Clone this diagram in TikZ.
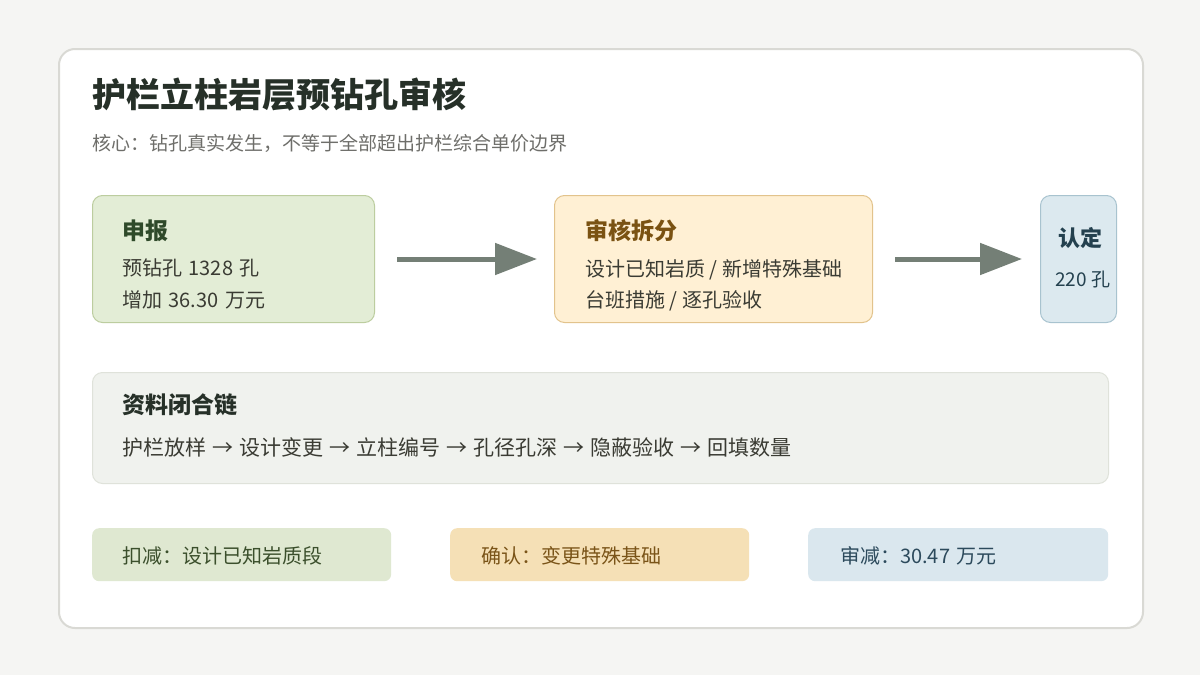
\documentclass[tikz,border=0pt]{standalone}
\usepackage{fontspec}
\setmainfont{Noto Sans CJK SC}
\usetikzlibrary{arrows.meta}
\definecolor{bgc}{HTML}{F5F5F3}
\definecolor{cardline}{HTML}{D9D9D4}
\definecolor{titlec}{HTML}{263028}
\definecolor{subc}{HTML}{6E6E6A}
\definecolor{gfill}{HTML}{E3EDD6}
\definecolor{gline}{HTML}{BCCD9F}
\definecolor{gtext}{HTML}{2F4A2A}
\definecolor{ofill}{HTML}{FFF0D4}
\definecolor{oline}{HTML}{E2C38C}
\definecolor{otext}{HTML}{7A5212}
\definecolor{bfill}{HTML}{DCE9EF}
\definecolor{bline}{HTML}{A8C3CF}
\definecolor{btext}{HTML}{24414F}
\definecolor{nfill}{HTML}{F0F2EE}
\definecolor{nline}{HTML}{DFE2DA}
\definecolor{bodyc}{HTML}{3A3B33}
\definecolor{arrc}{HTML}{747F76}
\definecolor{g2fill}{HTML}{DFE8D1}
\definecolor{o2fill}{HTML}{F5E0B6}
\definecolor{b2fill}{HTML}{DAE7EE}
\definecolor{g2text}{HTML}{3B4F2C}
\definecolor{o2text}{HTML}{7A5418}
\definecolor{b2text}{HTML}{2C4A5C}
\newcommand\chainarr{\hspace{6pt}→\hspace{6pt}}
\newcommand\wsp{\hspace{6.5pt}}
\tikzset{
  boxbase/.style={rectangle, rounded corners=10pt, line width=1pt, inner sep=0pt, anchor=north west},
  hdtext/.style={anchor=base west, inner sep=0pt, font=\fontsize{23}{27}\selectfont\bfseries},
  bdtext/.style={anchor=base west, inner sep=0pt, font=\fontsize{20}{24}\selectfont, text=bodyc},
  flowarrow/.style={draw=arrc, line width=5pt, -{Triangle[length=42pt,width=31pt]}},
  tagbox/.style={rectangle, rounded corners=7pt, inner sep=0pt, anchor=north west, minimum width=299pt, minimum height=53pt},
}
\begin{document}
\begin{tikzpicture}[x=1pt,y=-1pt]
\useasboundingbox (0,0) rectangle (1200,675);
\fill[bgc] (0,0) rectangle (1200,675);
\node[rectangle, rounded corners=16pt, draw=cardline, line width=2pt, fill=white, anchor=north west, minimum width=1084pt, minimum height=579pt, inner sep=0pt] (card) at (58,48) {};

\node[anchor=base west, inner sep=0pt, text=titlec, font=\fontsize{34}{40}\selectfont\bfseries] (title) at (92,107) {护栏立柱岩层预钻孔审核};
\node[anchor=base west, inner sep=0pt, text=subc, font=\fontsize{19}{23}\selectfont] (sub) at (92,150) {核心：钻孔真实发生，不等于全部超出护栏综合单价边界};

% top row
\node[boxbase, fill=gfill, draw=gline, minimum width=282pt, minimum height=127pt] (b1) at (92,195) {};
\node[hdtext, text=gtext] (b1t) at (122,239) {申报};
\node[bdtext] (b1a) at (122,275) {预钻孔\wsp{}1328\wsp{}孔};
\node[bdtext] (b1b) at (122,307) {增加\wsp{}36.30\wsp{}万元};

\node[boxbase, fill=ofill, draw=oline, minimum width=318pt, minimum height=127pt] (b2) at (554,195) {};
\node[hdtext, text=otext] (b2t) at (585,239) {审核拆分};
\node[bdtext] (b2a) at (585,276) {设计已知岩质 / 新增特殊基础};
\node[bdtext] (b2b) at (585,307) {台班措施 / 逐孔验收};

\node[boxbase, fill=bfill, draw=bline, minimum width=76pt, minimum height=127pt] (b3) at (1040,195) {};
\node[hdtext, text=btext, font=\fontsize{22}{26}\selectfont\bfseries] (b3t) at (1058,246) {认定};
\node[bdtext, text=btext, font=\fontsize{19}{23}\selectfont] (b3a) at (1055,286) {220\hspace{5pt}孔};

\draw[flowarrow, shorten <=22pt, shorten >=17pt] (b1.east) -- (b2.west);
\draw[flowarrow, shorten <=22pt, shorten >=18pt] (b2.east) -- (b3.west);

% chain box
\node[boxbase, fill=nfill, draw=nline, minimum width=1016pt, minimum height=111pt] (b4) at (92,372) {};
\node[hdtext, text=titlec] (b4t) at (122,413) {资料闭合链};
\node[bdtext, font=\fontsize{21}{25}\selectfont] (b4a) at (122,455) {护栏放样\chainarr{}设计变更\chainarr{}立柱编号\chainarr{}孔径孔深\chainarr{}隐蔽验收\chainarr{}回填数量};

% bottom tags
\node[tagbox, fill=g2fill] (t1) at (92,528) {};
\node[bdtext, text=g2text] (t1t) at (122,563) {扣减：设计已知岩质段};
\node[tagbox, fill=o2fill] (t2) at (450,528) {};
\node[bdtext, text=o2text] (t2t) at (481,563) {确认：变更特殊基础};
\node[tagbox, fill=b2fill, minimum width=300pt] (t3) at (808,528) {};
\node[bdtext, text=b2text] (t3t) at (840,563) {审减：30.47\wsp{}万元};
\end{tikzpicture}
\end{document}
